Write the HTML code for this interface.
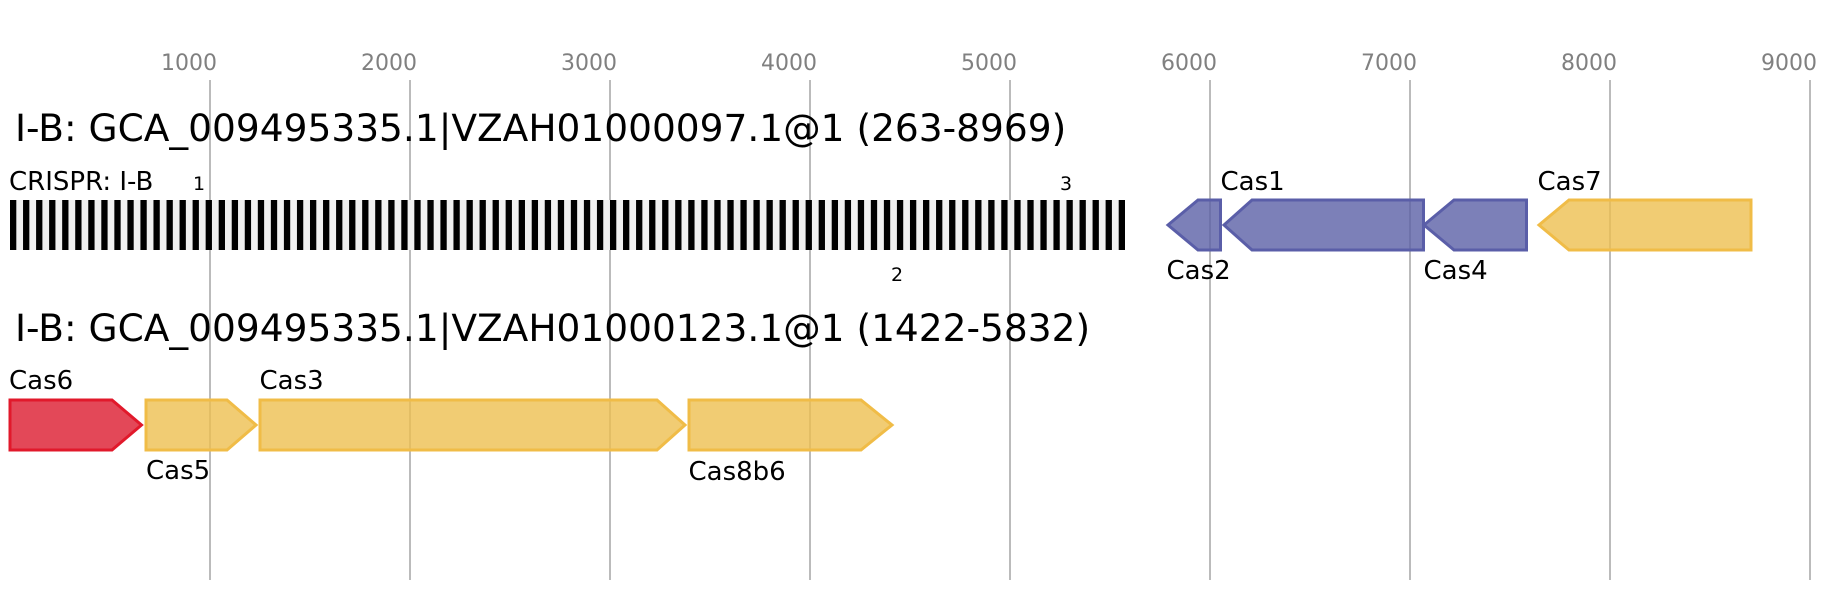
<!DOCTYPE html>
<html><head><meta charset="utf-8"><style>html,body{margin:0;padding:0;background:#fff;}svg{display:block;}</style></head>
<body>
<svg xmlns="http://www.w3.org/2000/svg" width="1841" height="600" viewBox="0 0 1841 600" font-family="'DejaVu Sans', 'Liberation Sans', sans-serif">
<rect width="1841" height="600" fill="#fff"/>
<g fill="#808080" font-size="22" text-anchor="end">
<text x="217" y="70">1000</text><text x="417" y="70">2000</text><text x="617" y="70">3000</text><text x="817" y="70">4000</text><text x="1017" y="70">5000</text><text x="1217" y="70">6000</text><text x="1417" y="70">7000</text><text x="1617" y="70">8000</text><text x="1817" y="70">9000</text>
</g>
<g stroke="#bbbbbb" stroke-width="2">
<line x1="210" y1="80" x2="210" y2="580"/><line x1="410" y1="80" x2="410" y2="580"/><line x1="610" y1="80" x2="610" y2="580"/><line x1="810" y1="80" x2="810" y2="580"/><line x1="1010" y1="80" x2="1010" y2="580"/><line x1="1210" y1="80" x2="1210" y2="580"/><line x1="1410" y1="80" x2="1410" y2="580"/><line x1="1610" y1="80" x2="1610" y2="580"/><line x1="1810" y1="80" x2="1810" y2="580"/>
</g>
<text x="15" y="141" font-size="37.5" fill="#000">I-B: GCA_009495335.1|VZAH01000097.1@1 (263-8969)</text>
<text x="15" y="341" font-size="37.5" fill="#000">I-B: GCA_009495335.1|VZAH01000123.1@1 (1422-5832)</text>
<text x="9" y="190" font-size="26" fill="#000">CRISPR: I-B</text>
<g font-size="19" fill="#000" text-anchor="middle">
<text x="199" y="190">1</text><text x="897" y="281">2</text><text x="1066" y="190">3</text>
</g>
<rect x="10" y="200" width="1115" height="50" fill="#f0f0f0"/>
<g id="stripes" fill="#000">
<rect x="10.00" y="200" width="6.3" height="50"/><rect x="23.04" y="200" width="6.3" height="50"/><rect x="36.09" y="200" width="6.3" height="50"/><rect x="49.13" y="200" width="6.3" height="50"/><rect x="62.17" y="200" width="6.3" height="50"/><rect x="75.22" y="200" width="6.3" height="50"/><rect x="88.26" y="200" width="6.3" height="50"/><rect x="101.30" y="200" width="6.3" height="50"/><rect x="114.34" y="200" width="6.3" height="50"/><rect x="127.39" y="200" width="6.3" height="50"/><rect x="140.43" y="200" width="6.3" height="50"/><rect x="153.47" y="200" width="6.3" height="50"/><rect x="166.52" y="200" width="6.3" height="50"/><rect x="179.56" y="200" width="6.3" height="50"/><rect x="192.60" y="200" width="6.3" height="50"/><rect x="205.65" y="200" width="6.3" height="50"/><rect x="218.69" y="200" width="6.3" height="50"/><rect x="231.73" y="200" width="6.3" height="50"/><rect x="244.77" y="200" width="6.3" height="50"/><rect x="257.82" y="200" width="6.3" height="50"/><rect x="270.86" y="200" width="6.3" height="50"/><rect x="283.90" y="200" width="6.3" height="50"/><rect x="296.95" y="200" width="6.3" height="50"/><rect x="309.99" y="200" width="6.3" height="50"/><rect x="323.03" y="200" width="6.3" height="50"/><rect x="336.08" y="200" width="6.3" height="50"/><rect x="349.12" y="200" width="6.3" height="50"/><rect x="362.16" y="200" width="6.3" height="50"/><rect x="375.20" y="200" width="6.3" height="50"/><rect x="388.25" y="200" width="6.3" height="50"/><rect x="401.29" y="200" width="6.3" height="50"/><rect x="414.33" y="200" width="6.3" height="50"/><rect x="427.38" y="200" width="6.3" height="50"/><rect x="440.42" y="200" width="6.3" height="50"/><rect x="453.46" y="200" width="6.3" height="50"/><rect x="466.51" y="200" width="6.3" height="50"/><rect x="479.55" y="200" width="6.3" height="50"/><rect x="492.59" y="200" width="6.3" height="50"/><rect x="505.63" y="200" width="6.3" height="50"/><rect x="518.68" y="200" width="6.3" height="50"/><rect x="531.72" y="200" width="6.3" height="50"/><rect x="544.76" y="200" width="6.3" height="50"/><rect x="557.81" y="200" width="6.3" height="50"/><rect x="570.85" y="200" width="6.3" height="50"/><rect x="583.89" y="200" width="6.3" height="50"/><rect x="596.94" y="200" width="6.3" height="50"/><rect x="609.98" y="200" width="6.3" height="50"/><rect x="623.02" y="200" width="6.3" height="50"/><rect x="636.06" y="200" width="6.3" height="50"/><rect x="649.11" y="200" width="6.3" height="50"/><rect x="662.15" y="200" width="6.3" height="50"/><rect x="675.19" y="200" width="6.3" height="50"/><rect x="688.24" y="200" width="6.3" height="50"/><rect x="701.28" y="200" width="6.3" height="50"/><rect x="714.32" y="200" width="6.3" height="50"/><rect x="727.37" y="200" width="6.3" height="50"/><rect x="740.41" y="200" width="6.3" height="50"/><rect x="753.45" y="200" width="6.3" height="50"/><rect x="766.49" y="200" width="6.3" height="50"/><rect x="779.54" y="200" width="6.3" height="50"/><rect x="792.58" y="200" width="6.3" height="50"/><rect x="805.62" y="200" width="6.3" height="50"/><rect x="818.67" y="200" width="6.3" height="50"/><rect x="831.71" y="200" width="6.3" height="50"/><rect x="844.75" y="200" width="6.3" height="50"/><rect x="857.80" y="200" width="6.3" height="50"/><rect x="870.84" y="200" width="6.3" height="50"/><rect x="883.88" y="200" width="6.3" height="50"/><rect x="896.92" y="200" width="6.3" height="50"/><rect x="909.97" y="200" width="6.3" height="50"/><rect x="923.01" y="200" width="6.3" height="50"/><rect x="936.05" y="200" width="6.3" height="50"/><rect x="949.10" y="200" width="6.3" height="50"/><rect x="962.14" y="200" width="6.3" height="50"/><rect x="975.18" y="200" width="6.3" height="50"/><rect x="988.23" y="200" width="6.3" height="50"/><rect x="1001.27" y="200" width="6.3" height="50"/><rect x="1014.31" y="200" width="6.3" height="50"/><rect x="1027.35" y="200" width="6.3" height="50"/><rect x="1040.40" y="200" width="6.3" height="50"/><rect x="1053.44" y="200" width="6.3" height="50"/><rect x="1066.48" y="200" width="6.3" height="50"/><rect x="1079.53" y="200" width="6.3" height="50"/><rect x="1092.57" y="200" width="6.3" height="50"/><rect x="1105.61" y="200" width="6.3" height="50"/><rect x="1118.70" y="200" width="6.3" height="50"/>
</g>
<g stroke-width="3" stroke-linejoin="miter">
<polygon points="1168,225 1198,200 1220.5,200 1220.5,250 1198,250" fill="#5b60a6" fill-opacity="0.8" stroke="#5a5ea8"/>
<polygon points="1224,225 1252,200 1423.5,200 1423.5,250 1252,250" fill="#5b60a6" fill-opacity="0.8" stroke="#5a5ea8"/>
<polygon points="1424,225 1454,200 1526.5,200 1526.5,250 1454,250" fill="#5b60a6" fill-opacity="0.8" stroke="#5a5ea8"/>
<polygon points="1539,225 1569,200 1751,200 1751,250 1569,250" fill="#eebf50" fill-opacity="0.8" stroke="#f0bc47"/>
<polygon points="10,400 112,400 141.5,425 112,450 10,450" fill="#dc1a2e" fill-opacity="0.8" stroke="#e1192b"/>
<polygon points="146,400 227,400 256,425 227,450 146,450" fill="#eebf50" fill-opacity="0.8" stroke="#f0bc47"/>
<polygon points="260,400 657,400 685,425 657,450 260,450" fill="#eebf50" fill-opacity="0.8" stroke="#f0bc47"/>
<polygon points="689,400 861,400 892,425 861,450 689,450" fill="#eebf50" fill-opacity="0.8" stroke="#f0bc47"/>
</g>
<g font-size="26" fill="#000">
<text x="1220.5" y="190">Cas1</text>
<text x="1166.5" y="279">Cas2</text>
<text x="1423.5" y="279">Cas4</text>
<text x="1537.5" y="190">Cas7</text>
<text x="9" y="389">Cas6</text>
<text x="146" y="479">Cas5</text>
<text x="259.5" y="389">Cas3</text>
<text x="688.5" y="480">Cas8b6</text>
</g>
</svg>
</body></html>
